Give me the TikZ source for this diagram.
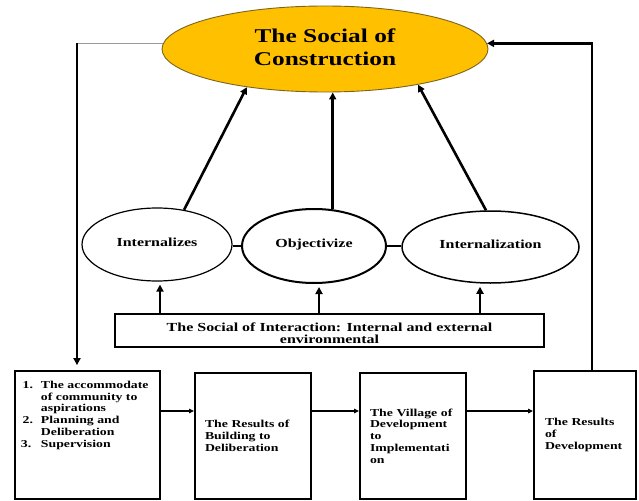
\documentclass[tikz,border=0pt]{standalone}
\usepackage{fontspec}
\setmainfont{Liberation Serif}[FakeStretch=1.3]
\usetikzlibrary{shapes.geometric,arrows.meta,calc}
\definecolor{gold}{RGB}{255,192,0}
\definecolor{goldedge}{RGB}{125,100,30}
\begin{document}
\begin{tikzpicture}[x=1pt,y=-1pt,
  every node/.style={font=\bfseries},
  oval/.style={ellipse, draw, inner sep=0pt, text height=9pt, text depth=6pt,
    font=\fontsize{12.3}{14}\selectfont\bfseries},
  stage/.style={rectangle, draw, line width=1.8pt, align=left,
    font=\fontsize{10.6}{11.8}\selectfont\bfseries, inner ysep=0pt},
  flow/.style={line width=1.2pt, -{Triangle[length=5pt,width=4.5pt]}},
  heavy/.style={line width=2.6pt, -{Triangle[length=7pt,width=7pt]}},
  bond/.style={line width=2.4pt}]
\useasboundingbox (0,0) rectangle (639,500);

% central goal
\node[ellipse, draw=goldedge, fill=gold, line width=0.9pt,
      minimum width=326pt, minimum height=86pt, inner sep=0pt, align=center,
      font=\fontsize{19.5}{23}\selectfont\bfseries] (soc) at (325,49)
      {The Social of\\Construction\rule[-4pt]{0pt}{4pt}};

% three moments of the dialectic
\node[oval, line width=1.2pt, minimum width=150pt, minimum height=73pt] (intz) at (157,244.5) {Internalizes};
\node[oval, line width=2pt, minimum width=144pt, minimum height=74pt] (obj) at (314,246) {Objectivize};
\node[oval, line width=1.5pt, minimum width=177pt, minimum height=72pt] (intn) at (490.5,247) {Internalization};

% interaction bar
\node[rectangle, draw, line width=1.8pt, minimum width=429pt, minimum height=33pt,
      align=center, inner sep=0pt, font=\fontsize{12.3}{12.3}\selectfont\bfseries] (inter) at (329.5,330.5)
      {\rule{0pt}{13.5pt}The Social of Interaction: Internal and external\\environmental};

% process stages
\node[stage, minimum width=145pt, minimum height=128pt, inner xsep=4pt] (b1) at (87.5,435)
  {\begin{minipage}[c][108pt][t]{137pt}\raggedright
   \makebox[14pt][r]{1.}\hspace{8pt}The accommodate\\
   \hspace*{22pt}of community to\\
   \hspace*{22pt}aspirations\\
   \makebox[14pt][r]{2.}\hspace{8pt}Planning and\\
   \hspace*{22pt}Deliberation\\
   \makebox[22pt][l]{\hspace{2pt}3.}Supervision
   \end{minipage}};
\node[stage, text width=96pt, inner xsep=10pt, minimum height=126pt] (b2) at (253,436)
  {The Results of\\Building to\\Deliberation};
\node[stage, text width=86pt, inner xsep=10pt, minimum height=126pt] (b3) at (413,436)
  {The Village of\\Development\\to\\Implementati\\on};
\node[stage, text width=80pt, inner xsep=11pt, minimum height=128pt] (b4) at (585,435)
  {The Results\\of\\Development};

% feedback loop
\coordinate (drop) at ([xshift=-10.5pt]b1.north);
\coordinate (rise) at ([xshift=7pt]b4.north);
\draw[line width=0.8pt, black!40] (soc.178) -- (soc.178 -| drop);
\draw[heavy, shorten >=5pt] (soc.178 -| drop) -- (drop);
\draw[line width=2.4pt, -{Triangle[length=7pt,width=7pt]}] (rise) |- (soc.2);

% stages in sequence
\draw[flow] ([yshift=24pt]b1.east) -- ([yshift=24pt]b1.east -| b2.west);
\draw[flow] ([yshift=25pt]b2.east) -- ([yshift=25pt]b2.east -| b3.west);
\draw[flow] ([yshift=25pt]b3.east) -- ([yshift=25pt]b3.east -| b4.west);

% moments feeding the construction
\draw[heavy] (intz.52) -- (soc.206);
\draw[heavy] (obj.63) -- (obj.63 |- soc.south);
\draw[heavy] (intn.97) -- (soc.-21.4);

% links between moments
\draw[bond] (obj.west -| intz.east) -- (obj.west);
\draw[bond] (obj.east) -- (obj.east -| intn.west);

% interaction feeding each moment
\coordinate (u1) at ([xshift=3pt]intz.south);
\coordinate (u2) at ([xshift=5pt]obj.south);
\coordinate (u3) at ([xshift=-10.5pt]intn.south);
\draw[heavy, shorten >=3pt] (u1 |- inter.north) -- (u1);
\draw[heavy, shorten >=3pt] (u2 |- inter.north) -- (u2);
\draw[heavy, shorten >=3pt] (u3 |- inter.north) -- (u3);
\end{tikzpicture}
\end{document}
